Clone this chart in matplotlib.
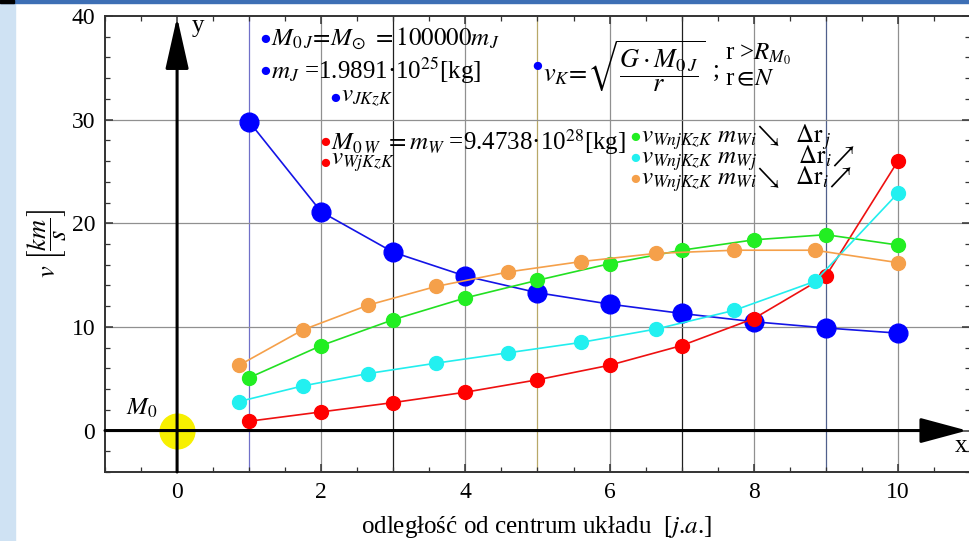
import matplotlib
matplotlib.use("Agg")
import matplotlib.pyplot as plt
from matplotlib.patches import Rectangle
from matplotlib.ticker import MultipleLocator

plt.rcParams['font.family'] = ['Liberation Serif', 'DejaVu Serif']
plt.rcParams['mathtext.fontset'] = 'stix'

# odleglosc [j.a.] - punkty calkowite
r_int = [1, 2, 3, 4, 5, 6, 7, 8, 9, 10]
v_JKzK = [29.8, 21.1, 17.2, 14.9, 13.3, 12.2, 11.3, 10.5, 9.9, 9.4]
v_WjKzK = [0.9, 1.8, 2.7, 3.7, 4.9, 6.3, 8.2, 10.8, 14.9, 26.0]
v_green = [5.1, 8.2, 10.7, 12.8, 14.5, 16.1, 17.4, 18.4, 18.9, 17.9]
# punkty przesuniete (delta r)
r_shift = [0.86, 1.74, 2.65, 3.59, 4.59, 5.60, 6.65, 7.73, 8.85, 10.0]
v_cyan = [2.8, 4.3, 5.5, 6.5, 7.5, 8.5, 9.8, 11.6, 14.4, 22.9]
v_orange = [6.3, 9.7, 12.1, 13.9, 15.3, 16.3, 17.1, 17.4, 17.4, 16.2]

grid_x = [1, 2, 3, 4, 5, 6, 7, 8, 9, 10]
grid_col = ['#7070c8', '#909090', '#202020', '#909090', '#b8a868',
            '#909090', '#202020', '#909090', '#50608c', '#909090']

fig = plt.figure(figsize=(9.69, 5.41), dpi=100)
# ramka okna
fig.patches.append(Rectangle((0, 0), 15/969, 1, transform=fig.transFigure, color='#cfe2f3', zorder=0))
fig.patches.append(Rectangle((0, 1-3/541), 1, 3/541, transform=fig.transFigure, color='#3d6fb5', zorder=0))
fig.patches.append(Rectangle((0, 1-3/541), 14/969, 3/541, transform=fig.transFigure, color='black', zorder=1))

ax = fig.add_axes([105/969, 69/541, 865/969, 456/541])
ax.set_xlim(-1, 11)
ax.set_ylim(-4, 40)

for gx, gc in zip(grid_x, grid_col):
    ax.axvline(gx, color=gc, lw=0.9, zorder=1)
for gy in [10, 20, 30]:
    ax.axhline(gy, color='#909090', lw=0.9, zorder=1)

ax.xaxis.set_major_locator(MultipleLocator(2))
ax.xaxis.set_minor_locator(MultipleLocator(0.5))
ax.yaxis.set_major_locator(MultipleLocator(10))
ax.yaxis.set_minor_locator(MultipleLocator(2))
ax.tick_params(which='both', direction='in', top=True, right=True, labelsize=17, colors='#333333', labelcolor='black')
ax.tick_params(which='major', length=6, width=1.1, pad=7)
ax.tick_params(which='minor', length=3.5, width=0.9)
for s in ax.spines.values():
    s.set_color('#333333')
    s.set_linewidth(1.4)

# slonce w srodku
ax.plot([0], [0], 'o', color='#f7f000', ms=25, zorder=3)

ax.plot(r_int, v_JKzK, '-o', color='#1414e6', mfc='#0000ff', mec='#0000ff', ms=13.5, lw=1.2, zorder=4)
ax.plot(r_int, v_WjKzK, '-o', color='#ee1010', mfc='#ff0000', mec='#ff0000', ms=10, lw=1.2, zorder=5)
ax.plot(r_int, v_green, '-o', color='#22e022', mfc='#22ee22', mec='#22ee22', ms=10, lw=1.2, zorder=5)
ax.plot(r_shift, v_cyan, '-o', color='#22eeee', mfc='#22f0f0', mec='#22f0f0', ms=10, lw=1.2, zorder=5)
ax.plot(r_shift, v_orange, '-o', color='#f5a04a', mfc='#f5a04a', mec='#f5a04a', ms=10, lw=1.2, zorder=5)

# osie ze strzalkami
ax.annotate('', xy=(0, 39.9), xytext=(0, -4), zorder=6,
            arrowprops=dict(arrowstyle='-|>,head_length=3.2,head_width=0.72', mutation_scale=10,
                            color='black', lw=2.2, shrinkA=0, shrinkB=0))
ax.annotate('', xy=(10.96, 0), xytext=(-1, 0), zorder=6,
            arrowprops=dict(arrowstyle='-|>,head_length=2.9,head_width=0.78', mutation_scale=10,
                            color='black', lw=2.2, shrinkA=0, shrinkB=0))
ax.text(0.2, 39.0, 'y', fontsize=18, va='center', ha='left')
ax.text(10.79, -1.5, 'x', fontsize=18, va='center', ha='left')
ax.text(-0.49, 2.1, '$M_0$', fontsize=18, va='center', ha='center')


def px(x, y):
    # piksele obrazka -> dane
    return (x - 177.1) / 72.08, (430.5 - y) / 10.36


fs = 18
def label(bx, by, dot, txt, size=fs):
    x0, yb = px(bx, by + 5)
    x1, y0 = px(bx + 6, by)
    ax.text(x0, yb, '●', color=dot, fontsize=14, va='baseline', ha='center', zorder=7)
    ax.text(x1, y0, txt, fontsize=size, va='center', ha='left', zorder=7)

label(265, 39, '#0000ff', r'$M_{0\,J}\!=\!M_{\odot}\ =\mathit{100000}m_J$')
label(265, 71, '#0000ff', r'$m_J$ =1.9891·10$^{25}$[kg]')
label(335, 98, '#0000ff', r'$v_{JKzK}$')
label(537, 66, '#0000ff', r'$v_K\!=\!\sqrt{\dfrac{G\cdot M_{0\,J}}{r}}$', size=19)
ax.text(*px(713, 71), ';', fontsize=fs, va='center', ha='left')
ax.text(*px(725, 54), r'r >$R_{M_0}$', fontsize=fs, va='center', ha='left')
ax.text(*px(725, 79), r'r$\in\!N$', fontsize=fs, va='center', ha='left')

label(325, 142, '#ff0000', r'$M_{0\,W}\ =m_W\ $=9.4738·10$^{28}$[kg]')
label(325, 163, '#ff0000', r'$v_{WjKzK}$')
label(635, 137, '#22ee22', r'$v_{WnjKzK}\ m_{Wi}\!\searrow\ \ \Delta\mathrm{r}_{\,j}$')
label(635, 158, '#22f0f0', r'$v_{WnjKzK}\ m_{Wj}\ \ \ \ \ \ \ \Delta\mathrm{r}_i\!\nearrow$')
label(635, 179, '#f5a04a', r'$v_{WnjKzK}\ m_{Wi}\!\searrow\ \ \Delta\mathrm{r}_i\!\nearrow$')

fig.text(47/969, 1 - 243/541, r'$v\ \left[\dfrac{km}{s}\right]$', fontsize=19, rotation=90, va='center', ha='center')
fig.text(536/969, 1 - 527/541, r'odległość od centrum układu  [$j$.$a$.]', fontsize=18, va='center', ha='center')

fig.savefig('out.png', dpi=100)
